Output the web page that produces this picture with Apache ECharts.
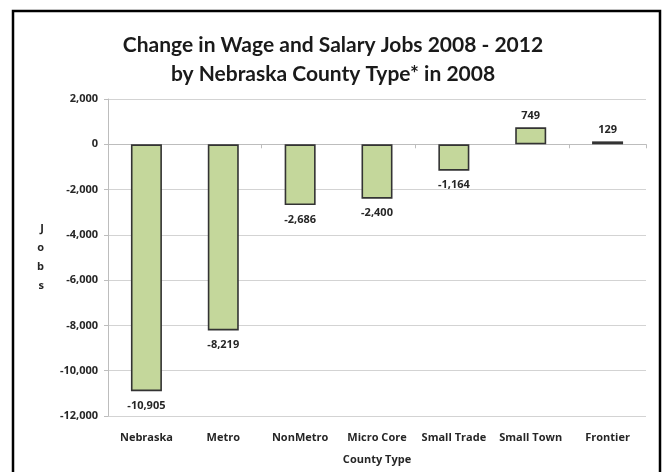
<!DOCTYPE html>
<html>
<head>
<meta charset="utf-8">
<script src="https://cdn.jsdelivr.net/npm/echarts@6/dist/echarts.min.js"></script>
<style>
  html, body { margin: 0; padding: 0; background: #fff; }
  #chart { width: 666px; height: 472px; }
</style>
</head>
<body>
<div id="chart"></div>
<script>
var categories = ["Nebraska", "Metro", "NonMetro", "Micro Core", "Small Trade", "Small Town", "Frontier"];
var jobChange = [-10905, -8219, -2686, -2400, -1164, 749, 129];
var yTicks = { min: -12000, max: 2000, interval: 2000 };

var titleFont = "Lato, 'Open Sans', sans-serif";
var labelFont = "'Open Sans', Lato, sans-serif";

function fmt(v) {
  return Number(v).toLocaleString("en-US");
}

var smallText = {
  fontFamily: labelFont,
  fontSize: 11,
  fontWeight: "bold",
  color: "#262626",
};

var myChart = echarts.init(document.getElementById("chart"));

var option = {
  backgroundColor: "#fff",
  animation: false,
  title: {
    text: "Change in Wage and Salary Jobs 2008 - 2012\nby Nebraska County Type* in 2008",
    left: "center",
    top: 26,
    textStyle: {
      fontFamily: titleFont,
      fontSize: 21,
      fontWeight: "bold",
      color: "#1a1a1a",
      lineHeight: 29,
    },
  },
  graphic: [
    {
      type: "rect",
      shape: { x: 13, y: 11, width: 647, height: 480 },
      style: { fill: null, stroke: "#000", lineWidth: 2.5 },
      silent: true,
    },
  ],
  grid: {
    left: 108,
    right: 20,
    top: 99,
    bottom: 56,
  },
  xAxis: [
    {
      type: "category",
      data: categories,
      position: "bottom",
      axisLine: { show: false, onZero: false },
      axisTick: { show: false },
      axisLabel: Object.assign({ margin: 16, interval: 0, hideOverlap: false }, smallText),
      name: "County Type",
      nameLocation: "middle",
      nameGap: 38,
      nameTextStyle: smallText,
    },
    {
      type: "category",
      data: categories,
      position: "bottom",
      axisLine: { show: true, onZero: true, lineStyle: { color: "#bdbdbd", width: 1 } },
      axisTick: { show: true, length: 4, lineStyle: { color: "#bdbdbd" } },
      axisLabel: { show: false },
    },
  ],
  yAxis: {
    type: "value",
    min: yTicks.min,
    max: yTicks.max,
    interval: yTicks.interval,
    name: "J\no\nb\ns",
    nameLocation: "middle",
    nameRotate: 0,
    nameGap: 64,
    nameTextStyle: Object.assign({ lineHeight: 19 }, smallText),
    axisLine: { show: true, lineStyle: { color: "#bdbdbd" } },
    axisTick: { show: true, length: 4, lineStyle: { color: "#bdbdbd" } },
    splitLine: { lineStyle: { color: "#d3d3d3", width: 1.2 } },
    axisLabel: Object.assign({ margin: 10, formatter: fmt }, smallText),
  },
  series: [
    {
      name: "Jobs",
      type: "bar",
      xAxisIndex: 0,
      barWidth: 31,
      data: jobChange.map(function (v) {
        return {
          value: v,
          label: { position: v < 0 ? "bottom" : "top", distance: v < 0 ? 9 : 6 },
        };
      }),
      itemStyle: {
        color: "#c4d79b",
        borderColor: "#333",
        borderWidth: 1.6,
      },
      label: Object.assign(
        {
          show: true,
          formatter: function (p) {
            return fmt(p.value);
          },
        },
        smallText
      ),
    },
  ],
};

myChart.setOption(option);
</script>
</body>
</html>
